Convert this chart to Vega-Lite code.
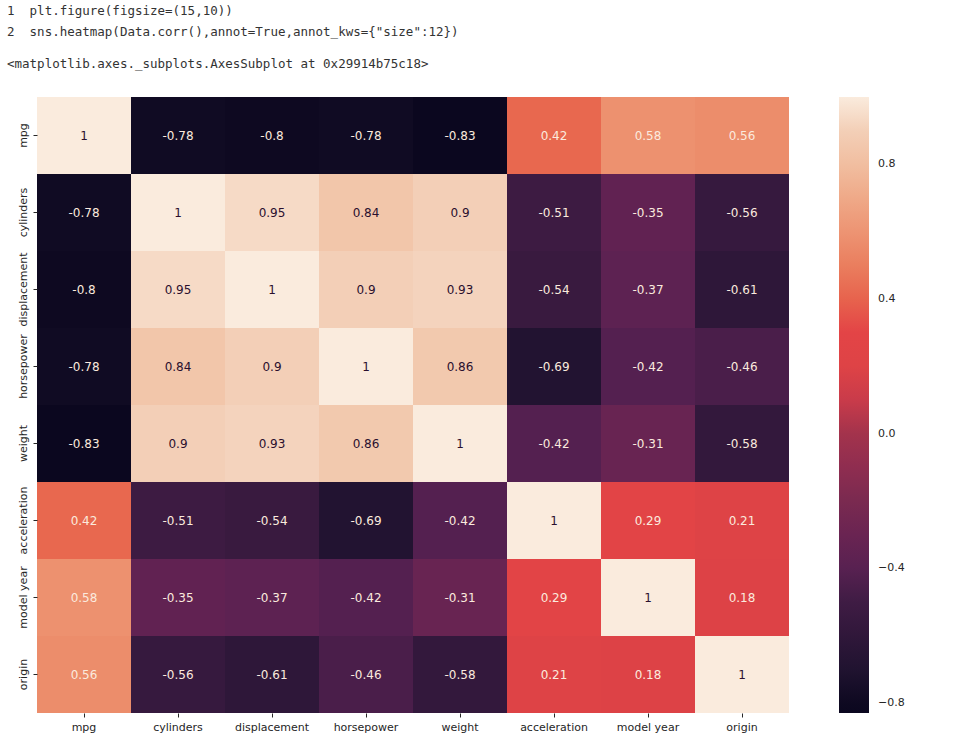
{
  "$schema": "https://vega.github.io/schema/vega-lite/v6.json",
  "description": "correlation heatmap of the auto-mpg columns",
  "width": 752,
  "height": 616,
  "padding": {"left": 4, "top": 5, "right": 5, "bottom": 5},
  "background": "white",
  "title": {
    "text": [
      "\u00a0\u00a01\u00a0\u00a0plt.figure(figsize=(15,10))",
      "\u00a0\u00a02\u00a0\u00a0sns.heatmap(Data.corr(),annot=True,annot_kws={\"size\":12})"
    ],
    "subtitle": "<matplotlib.axes._subplots.AxesSubplot at 0x29914b75c18>",
    "anchor": "start",
    "frame": "bounds",
    "dx": 3,
    "font": "DejaVu Sans Mono",
    "fontSize": 12.5,
    "fontWeight": "normal",
    "color": "#333333",
    "lineHeight": 21,
    "subtitleFont": "DejaVu Sans Mono",
    "subtitleFontSize": 12.5,
    "subtitleColor": "#333333",
    "subtitlePadding": 19,
    "offset": 27
  },
  "data": {
    "values": [
      {"row": "mpg", "col": "mpg", "r": 1},
      {"row": "mpg", "col": "cylinders", "r": -0.78},
      {"row": "mpg", "col": "displacement", "r": -0.8},
      {"row": "mpg", "col": "horsepower", "r": -0.78},
      {"row": "mpg", "col": "weight", "r": -0.83},
      {"row": "mpg", "col": "acceleration", "r": 0.42},
      {"row": "mpg", "col": "model year", "r": 0.58},
      {"row": "mpg", "col": "origin", "r": 0.56},
      {"row": "cylinders", "col": "mpg", "r": -0.78},
      {"row": "cylinders", "col": "cylinders", "r": 1},
      {"row": "cylinders", "col": "displacement", "r": 0.95},
      {"row": "cylinders", "col": "horsepower", "r": 0.84},
      {"row": "cylinders", "col": "weight", "r": 0.9},
      {"row": "cylinders", "col": "acceleration", "r": -0.51},
      {"row": "cylinders", "col": "model year", "r": -0.35},
      {"row": "cylinders", "col": "origin", "r": -0.56},
      {"row": "displacement", "col": "mpg", "r": -0.8},
      {"row": "displacement", "col": "cylinders", "r": 0.95},
      {"row": "displacement", "col": "displacement", "r": 1},
      {"row": "displacement", "col": "horsepower", "r": 0.9},
      {"row": "displacement", "col": "weight", "r": 0.93},
      {"row": "displacement", "col": "acceleration", "r": -0.54},
      {"row": "displacement", "col": "model year", "r": -0.37},
      {"row": "displacement", "col": "origin", "r": -0.61},
      {"row": "horsepower", "col": "mpg", "r": -0.78},
      {"row": "horsepower", "col": "cylinders", "r": 0.84},
      {"row": "horsepower", "col": "displacement", "r": 0.9},
      {"row": "horsepower", "col": "horsepower", "r": 1},
      {"row": "horsepower", "col": "weight", "r": 0.86},
      {"row": "horsepower", "col": "acceleration", "r": -0.69},
      {"row": "horsepower", "col": "model year", "r": -0.42},
      {"row": "horsepower", "col": "origin", "r": -0.46},
      {"row": "weight", "col": "mpg", "r": -0.83},
      {"row": "weight", "col": "cylinders", "r": 0.9},
      {"row": "weight", "col": "displacement", "r": 0.93},
      {"row": "weight", "col": "horsepower", "r": 0.86},
      {"row": "weight", "col": "weight", "r": 1},
      {"row": "weight", "col": "acceleration", "r": -0.42},
      {"row": "weight", "col": "model year", "r": -0.31},
      {"row": "weight", "col": "origin", "r": -0.58},
      {"row": "acceleration", "col": "mpg", "r": 0.42},
      {"row": "acceleration", "col": "cylinders", "r": -0.51},
      {"row": "acceleration", "col": "displacement", "r": -0.54},
      {"row": "acceleration", "col": "horsepower", "r": -0.69},
      {"row": "acceleration", "col": "weight", "r": -0.42},
      {"row": "acceleration", "col": "acceleration", "r": 1},
      {"row": "acceleration", "col": "model year", "r": 0.29},
      {"row": "acceleration", "col": "origin", "r": 0.21},
      {"row": "model year", "col": "mpg", "r": 0.58},
      {"row": "model year", "col": "cylinders", "r": -0.35},
      {"row": "model year", "col": "displacement", "r": -0.37},
      {"row": "model year", "col": "horsepower", "r": -0.42},
      {"row": "model year", "col": "weight", "r": -0.31},
      {"row": "model year", "col": "acceleration", "r": 0.29},
      {"row": "model year", "col": "model year", "r": 1},
      {"row": "model year", "col": "origin", "r": 0.18},
      {"row": "origin", "col": "mpg", "r": 0.56},
      {"row": "origin", "col": "cylinders", "r": -0.56},
      {"row": "origin", "col": "displacement", "r": -0.61},
      {"row": "origin", "col": "horsepower", "r": -0.46},
      {"row": "origin", "col": "weight", "r": -0.58},
      {"row": "origin", "col": "acceleration", "r": 0.21},
      {"row": "origin", "col": "model year", "r": 0.18},
      {"row": "origin", "col": "origin", "r": 1}
    ]
  },
  "encoding": {
    "x": {
      "field": "col",
      "type": "nominal",
      "sort": ["mpg", "cylinders", "displacement", "horsepower", "weight", "acceleration", "model year", "origin"],
      "scale": {"paddingInner": 0, "paddingOuter": 0},
      "axis": {"title": null, "labelAngle": 0, "domain": false, "tickSize": 4, "labelPadding": 4}
    },
    "y": {
      "field": "row",
      "type": "nominal",
      "sort": ["mpg", "cylinders", "displacement", "horsepower", "weight", "acceleration", "model year", "origin"],
      "scale": {"paddingInner": 0, "paddingOuter": 0},
      "axis": {"title": "\u00a0", "titleFontSize": 12, "titlePadding": 0, "labelAngle": -90, "labelOverlap": false, "domain": false, "tickSize": 4, "labelPadding": 5}
    }
  },
  "layer": [
    {
      "mark": {"type": "rect"},
      "encoding": {
        "color": {
          "field": "r",
          "type": "quantitative",
          "scale": {
            "domain": [-0.83, -0.78, -0.69, -0.58, -0.51, -0.42, -0.36, -0.2, 0.0, 0.15, 0.3, 0.42, 0.56, 0.62, 0.84, 0.93, 1],
            "range": ["#0b071f", "#100b23", "#221331", "#33183c", "#3d1b42", "#542050", "#5f2252", "#7a2a50", "#a3334c", "#db4246", "#e34446", "#e8684f", "#ec8d6b", "#ee9877", "#f2c6aa", "#f4d3bd", "#faebdd"]
          },
          "legend": {
            "title": null,
            "direction": "vertical",
            "gradientLength": 616,
            "gradientThickness": 30,
            "values": [-0.8, -0.4, 0, 0.4, 0.8],
            "format": ".1f",
            "offset": 50,
            "labelOffset": 9,
            "labelFontSize": 11
          }
        }
      }
    },
    {
      "mark": {"type": "text", "fontSize": 12, "font": "DejaVu Sans"},
      "encoding": {
        "text": {"field": "r", "type": "nominal"},
        "color": {
          "condition": {"test": "datum.r >= 0.8", "value": "#2a0f2e"},
          "value": "#fbeade"
        }
      }
    }
  ],
  "config": {
    "view": {"stroke": null},
    "axis": {"labelFont": "DejaVu Sans", "labelFontSize": 11, "labelColor": "#262626", "tickColor": "#262626", "grid": false},
    "legend": {"labelFont": "DejaVu Sans", "labelColor": "#262626"}
  }
}
